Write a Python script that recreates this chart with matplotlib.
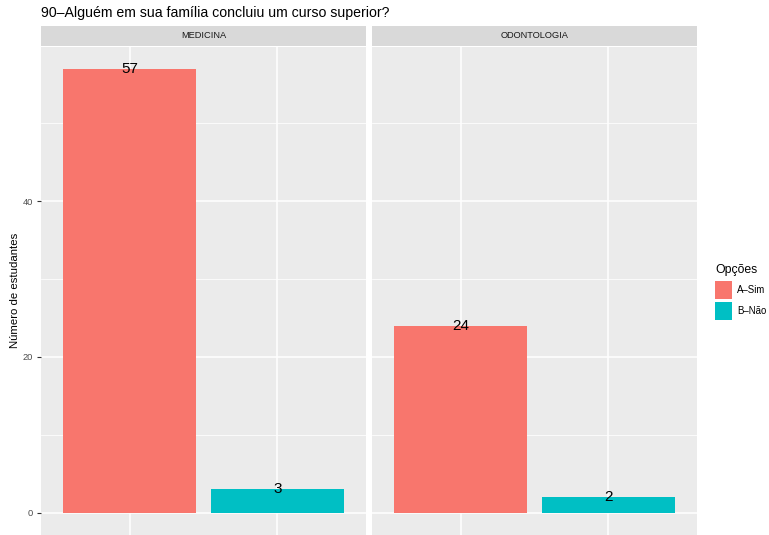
import matplotlib
matplotlib.use('Agg')
import matplotlib.pyplot as plt
from matplotlib.patches import Patch

plt.rcParams['font.family'] = ['Liberation Sans', 'DejaVu Sans']

# dados
cursos = ['MEDICINA', 'ODONTOLOGIA']
opcoes = ['A–Sim', 'B–Não']
medicina = [57, 3]
odontologia = [24, 2]
valores = [medicina, odontologia]
cores = ['#F8766D', '#00BFC4']
y_ticks = [0, 20, 40]
y_minor = [10, 30, 50]

W, H = 769, 535
fig = plt.figure(figsize=(W / 100, H / 100), dpi=100)

ymax = max(max(v) for v in valores)
ylim = (-0.05 * ymax, ymax * 1.05)

lefts = [41, 372]
pw = 325
top = 46.5
for i, curso in enumerate(cursos):
    ax = fig.add_axes([lefts[i] / W, 0, pw / W, (H - top) / H])
    ax.set_facecolor('#EBEBEB')
    ax.set_axisbelow(True)
    xs = list(range(1, len(opcoes) + 1))
    for y in y_minor:
        ax.axhline(y, color='white', lw=0.55, zorder=0)
    for y in y_ticks:
        ax.axhline(y, color='white', lw=1.1, zorder=0)
    for x in xs:
        ax.axvline(x, color='white', lw=1.1, zorder=0)
    ax.bar(xs, valores[i], width=0.9, color=cores, zorder=2)
    for x, v in zip(xs, valores[i]):
        ax.text(x, v, str(v), ha='center', va='center', fontsize=11, color='black', zorder=3)
    ax.set_xlim(0.4, len(opcoes) + 0.6)
    ax.set_ylim(*ylim)
    for s in ax.spines.values():
        s.set_visible(False)
    ax.set_xticks([])
    ax.set_yticks(y_ticks)
    if i == 0:
        ax.tick_params(axis='y', length=3, width=0.8, color='#333333', labelsize=6.7,
                       labelcolor='#4D4D4D', pad=3)
        ax.set_ylabel('Número de estudantes', fontsize=8.2, labelpad=2)
    else:
        ax.set_yticklabels([])
        ax.tick_params(axis='y', length=0)
    # faixa do facet
    sax = fig.add_axes([lefts[i] / W, (H - 45.7) / H, pw / W, 19.7 / H])
    sax.set_facecolor('#D9D9D9')
    sax.set_xticks([])
    sax.set_yticks([])
    for s in sax.spines.values():
        s.set_visible(False)
    sax.text(0.5, 0.5, curso, ha='center', va='center', fontsize=6.7, color='#1A1A1A',
             transform=sax.transAxes)

fig.text(41 / W, 1 - 13 / H, '90–Alguém em sua família concluiu um curso superior?',
         ha='left', va='center', fontsize=10.2)

handles = [Patch(facecolor=c, edgecolor='none') for c in cores]
leg = fig.legend(handles, opcoes, title='Opções', loc='upper left',
                 bbox_to_anchor=(715 / W, 1 - 264 / H), frameon=False,
                 fontsize=6.9, title_fontsize=8.8, handlelength=1.8, handleheight=2.6,
                 labelspacing=0.22, handletextpad=0.5, borderaxespad=0, borderpad=0)
leg._legend_box.align = 'left'
leg._legend_box.sep = 3.5

fig.savefig('out.png', dpi=100)
